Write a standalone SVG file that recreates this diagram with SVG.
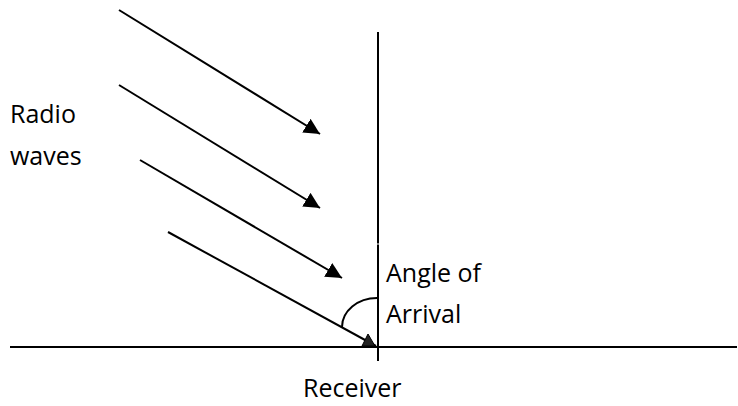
<svg xmlns="http://www.w3.org/2000/svg" width="738" height="406" viewBox="0 0 738 406">
  <style>
    .ln { stroke: #000; stroke-width: 2; fill: none; }
    .lbl { font-family: "Open Sans", "Liberation Sans", sans-serif; font-size: 25px; fill: #000; }
  </style>
  <defs>
    <marker id="arrow" markerUnits="userSpaceOnUse" markerWidth="17" markerHeight="17" refX="16" refY="8" orient="auto">
      <path d="M0,0 L16,8 L0,16 z" fill="#000"/>
    </marker>
  </defs>
  <rect width="738" height="406" fill="#fff"/>
  <g id="axes">
    <line class="ln" x1="10" y1="347" x2="737" y2="347"/>
    <line class="ln" x1="378" y1="32" x2="378" y2="243.5"/>
    <line class="ln" x1="378" y1="244.5" x2="378" y2="361"/>
  </g>
  <g id="connectors">
    <line class="ln" x1="119" y1="10" x2="320" y2="134" marker-end="url(#arrow)"/>
    <line class="ln" x1="119" y1="85" x2="320" y2="208" marker-end="url(#arrow)"/>
    <line class="ln" x1="140" y1="160" x2="342" y2="278" marker-end="url(#arrow)"/>
    <line class="ln" x1="168" y1="232" x2="376" y2="346"/>
    <path class="ln" d="M342,327 A35,29 0 0 1 377,298"/>
  </g>
  <g id="receiver-mark">
    <polygon points="368,334 362,346 375,346" fill="#222" stroke="#000" stroke-width="1"/>
  </g>
  <g id="label-radio">
    <text class="lbl" x="10" y="123">Radio</text>
    <text class="lbl" x="10" y="165">waves</text>
  </g>
  <g id="label-angle">
    <text class="lbl" x="386" y="282">Angle of</text>
    <text class="lbl" x="386" y="323">Arrival</text>
  </g>
  <g id="label-receiver">
    <text class="lbl" x="303" y="397">Receiver</text>
  </g>
</svg>
